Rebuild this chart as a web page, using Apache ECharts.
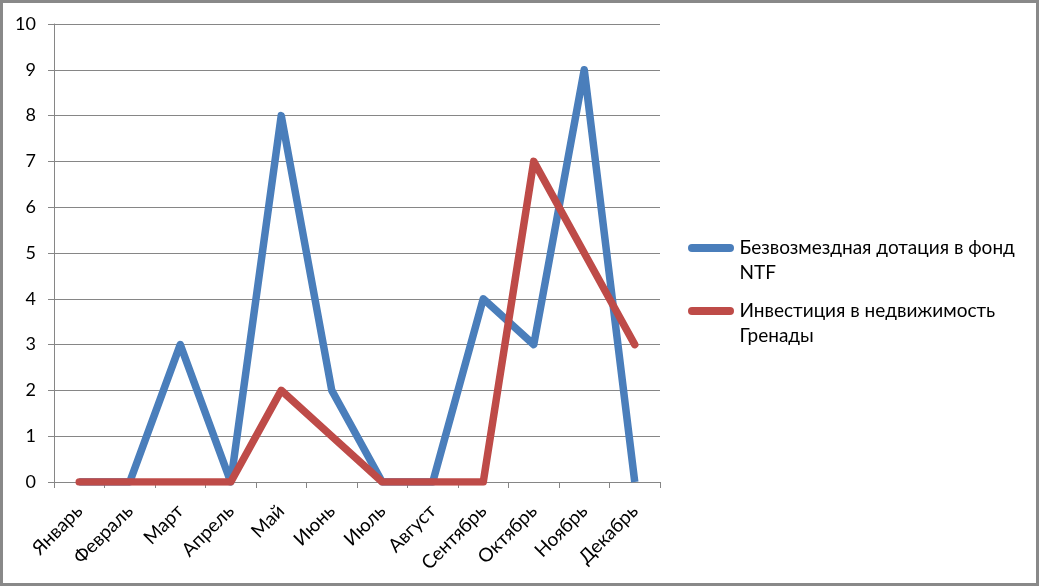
<!DOCTYPE html>
<html><head><meta charset="utf-8">
<script src="https://cdn.jsdelivr.net/npm/echarts@6/dist/echarts.min.js"></script>
<style>html,body{margin:0;padding:0;background:#fff}#c{width:1039px;height:586px;box-sizing:border-box;border:3px solid #898989}</style>
</head><body><div id="c"></div>
<script>
const categories = ['Январь','Февраль','Март','Апрель','Май','Июнь','Июль','Август','Сентябрь','Октябрь','Ноябрь','Декабрь'];
const seriesNames = ['Безвозмездная дотация в фонд NTF','Инвестиция в недвижимость Гренады'];
const legendLabels = [' \nБезвозмездная дотация в фонд\nNTF',' \nИнвестиция в недвижимость\nГренады'];
const grantValues = [0,0,3,0,8,2,0,0,4,3,9,0];
const realEstateValues = [0,0,0,0,2,1,0,0,0,7,5,3];
const colors = ['#4A7EBB','#BE4B48'];
const font = 'Lato, "Open Sans", sans-serif';
const chart = echarts.init(document.getElementById('c'), null, {renderer:'canvas'});
const capsule = 'path://M4,0 H42 A4,4 0 0 1 42,8 H4 A4,4 0 0 1 4,0 Z';
function legendFor(i, top){
  return {
    data:[seriesNames[i]], left:685, top:top, padding:0, icon:capsule,
    itemWidth:47, itemHeight:8, selectedMode:false,
    formatter:()=>legendLabels[i],
    textStyle:{fontFamily:font, fontSize:19, color:'#000', lineHeight:25}
  };
}
chart.setOption({
  animation:false,
  color:colors,
  legend:[legendFor(0,207.5), legendFor(1,270.5)],
  grid:{left:51, right:376, top:21, bottom:101, containLabel:false},
  xAxis:{
    type:'category', data:categories, boundaryGap:true,
    axisLine:{lineStyle:{color:'#868686', width:1}},
    axisTick:{show:true, length:6, alignWithLabel:false, lineStyle:{color:'#868686'}},
    axisLabel:{rotate:45, margin:26, fontFamily:font, fontSize:19, color:'#000', interval:0}
  },
  yAxis:{
    type:'value', min:0, max:10, interval:1,
    axisLine:{show:true, lineStyle:{color:'#868686', width:1}},
    axisTick:{show:true, length:6, lineStyle:{color:'#868686'}},
    axisLabel:{margin:18, fontFamily:font, fontSize:18, color:'#000'},
    splitLine:{lineStyle:{color:'#868686', width:1}}
  },
  series:[
    {name:seriesNames[0], type:'line', data:grantValues, symbol:'none', lineStyle:{width:7.5, color:colors[0], join:'round', cap:'butt'}, z:2},
    {name:seriesNames[1], type:'line', data:realEstateValues, symbol:'none', lineStyle:{width:7.5, color:colors[1], join:'round', cap:'round'}, z:3}
  ]
});
</script></body></html>
